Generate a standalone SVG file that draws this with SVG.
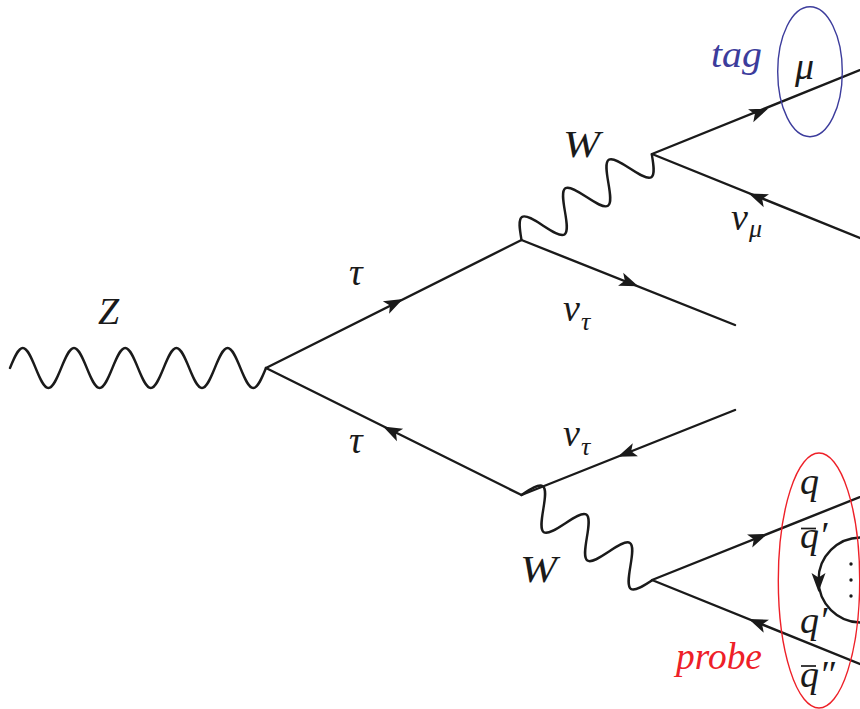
<svg xmlns="http://www.w3.org/2000/svg" xmlns:xlink="http://www.w3.org/1999/xlink" width="860" height="709" viewBox="0 0 860 709">
<style>
.ln{fill:none;stroke:#1a1a1a;stroke-width:2.4;stroke-linecap:round;stroke-linejoin:round}
.ah{fill:#1a1a1a;stroke:none}
.m{font-family:'Liberation Serif', 'Times New Roman', serif;font-style:italic;font-size:38px;fill:#1a1a1a}
.s{font-size:26px}
.blue{fill:#3c3c9c}
.red{fill:#ee2028}
.ell{fill:none;stroke-width:1.4}
</style>
<defs>
<path id="arr" d="M10,0 L-9,-7 L-4.5,0 L-9,7 Z"/>
<path id="wwave" d="M0,0 c4.24,-9.73 8.29,-19 13,-19 c4.71,0 8.76,9.27 13,19 c4.24,9.730 8.29,19 13,19 c4.71,0 8.76,-9.27 13,-19 c4.24,-9.73 8.29,-19 13,-19 c4.71,0 8.76,9.27 13,19 c4.24,9.73 8.29,19 13,19 c4.71,0 8.76,-9.27 13,-19 c4.24,-9.73 8.29,-19 13,-19 c4.71,0 8.76,9.27 13,19 c4.24,9.73 8.29,19 13,19 c4.71,0 8.76,-9.27 13,-19"/>
</defs>
<rect width="860" height="709" fill="#ffffff"/>
<g id="connectors">
<path class="ln" d="M10,368 c4.17,-10.25 8.17,-20 12.8,-20 c4.63,0 8.63,9.75 12.8,20 c4.17,10.25 8.17,20 12.8,20 c4.63,0 8.63,-9.75 12.8,-20 c4.17,-10.25 8.17,-20 12.8,-20 c4.63,0 8.63,9.75 12.8,20 c4.17,10.25 8.17,20 12.8,20 c4.63,0 8.63,-9.75 12.8,-20 c4.17,-10.25 8.17,-20 12.8,-20 c4.63,0 8.63,9.75 12.8,20 c4.17,10.25 8.17,20 12.8,20 c4.63,0 8.63,-9.75 12.8,-20 c4.17,-10.25 8.17,-20 12.8,-20 c4.63,0 8.63,9.75 12.8,20 c4.17,10.25 8.17,20 12.8,20 c4.63,0 8.63,-9.75 12.8,-20 c4.17,-10.25 8.17,-20 12.8,-20 c4.63,0 8.63,9.75 12.8,20 c4.17,10.25 8.17,20 12.8,20 c4.63,0 8.63,-9.75 12.8,-20"/>
<use xlink:href="#wwave" href="#wwave" class="ln" transform="translate(521.5,240) rotate(-33.39)"/>
<use xlink:href="#wwave" href="#wwave" class="ln" transform="translate(521.5,495) rotate(33.08)"/>
<path class="ln" d="M266,368 L521.5,240 L735,325"/>
<path class="ln" d="M266,368 L521.5,495 L735,410"/>
<path class="ln" d="M870,66 L652,154 L870,242"/>
<path class="ln" d="M870,493 L652,580 L870,668"/>
<circle class="ln" cx="861" cy="580" r="42.5"/>
<use xlink:href="#arr" href="#arr" class="ah" transform="translate(394,303.5) rotate(-26.65)"/>
<use xlink:href="#arr" href="#arr" class="ah" transform="translate(629,282.5) rotate(21.66)"/>
<use xlink:href="#arr" href="#arr" class="ah" transform="translate(392,431) rotate(206.5)"/>
<use xlink:href="#arr" href="#arr" class="ah" transform="translate(627,453) rotate(158.3)"/>
<use xlink:href="#arr" href="#arr" class="ah" transform="translate(759,112.3) rotate(-22)"/>
<use xlink:href="#arr" href="#arr" class="ah" transform="translate(758,197.3) rotate(202)"/>
<use xlink:href="#arr" href="#arr" class="ah" transform="translate(758,537.7) rotate(-21.8)"/>
<use xlink:href="#arr" href="#arr" class="ah" transform="translate(758,622.8) rotate(202)"/>
<use xlink:href="#arr" href="#arr" class="ah" transform="translate(818.5,582) rotate(90)"/>
</g>
<g id="Z"><text class="m" x="98" y="324">Z</text></g>
<g id="W-top"><text class="m" x="563" y="157" textLength="37" lengthAdjust="spacingAndGlyphs">W</text></g>
<g id="W-bottom"><text class="m" x="520" y="582" textLength="37" lengthAdjust="spacingAndGlyphs">W</text></g>
<g id="tau-top"><text class="m" x="349" y="285">τ</text></g>
<g id="tau-bottom"><text class="m" x="349" y="453">τ</text></g>
<g id="nutau-top"><text class="m" x="563" y="321">ν</text><text class="m s" x="581" y="330">τ</text></g>
<g id="nutau-bottom"><text class="m" x="563" y="446">ν</text><text class="m s" x="581" y="455">τ</text></g>
<g id="numu"><text class="m" x="731" y="230">ν</text><text class="m s" x="749" y="237">μ</text></g>
<g id="tag">
<text class="m blue" x="711" y="67" font-size="33" textLength="51" lengthAdjust="spacingAndGlyphs">tag</text>
<ellipse class="ell" cx="810" cy="71.7" rx="32.3" ry="65" stroke="#3c3c9c"/>
<text class="m" x="795" y="79">μ</text>
</g>
<g id="probe">
<text class="m red" x="676" y="669" font-size="33" textLength="86" lengthAdjust="spacingAndGlyphs">probe</text>
<ellipse class="ell" cx="819" cy="580.5" rx="40.7" ry="127.5" stroke="#ee2028"/>
<text class="m" x="800" y="494">q</text>
<text class="m" x="800" y="548">q′</text>
<line x1="801" y1="528.5" x2="816" y2="528.5" stroke="#1a1a1a" stroke-width="1.7"/>
<text class="m" x="800" y="633">q′</text>
<text class="m" x="800" y="687">q″</text>
<line x1="801" y1="666" x2="816" y2="666" stroke="#1a1a1a" stroke-width="1.7"/>
</g>
<g id="loop-dots" fill="#1a1a1a">
<circle cx="851" cy="564" r="1.7"/>
<circle cx="851" cy="580" r="1.7"/>
<circle cx="851" cy="596" r="1.7"/>
</g>
</svg>
